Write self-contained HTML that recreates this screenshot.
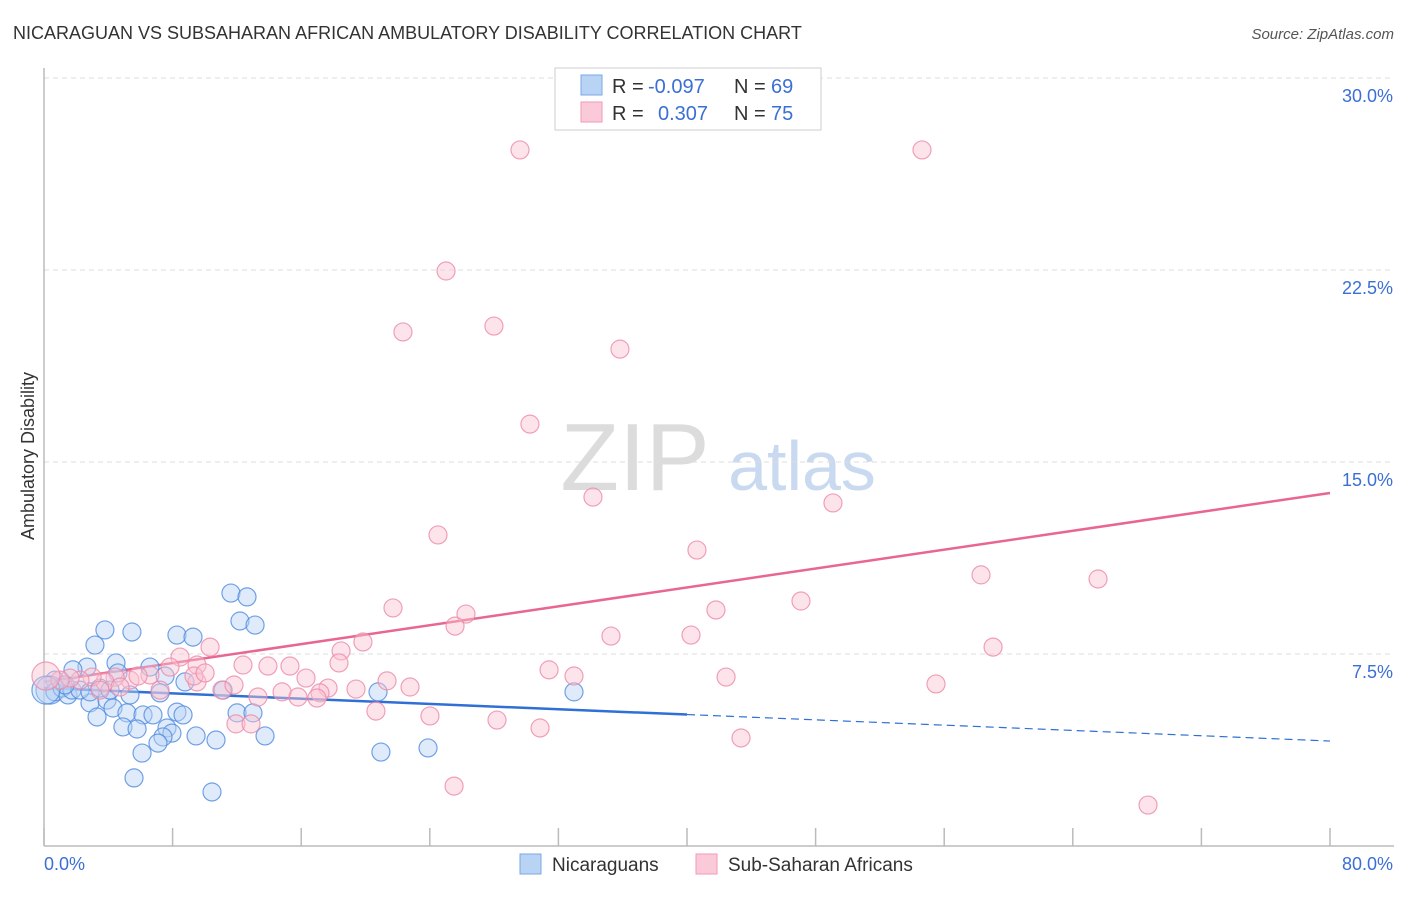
<!DOCTYPE html>
<html><head><meta charset="utf-8"><style>
body{margin:0;background:#fff;font-family:"Liberation Sans",sans-serif;}
svg text{font-family:"Liberation Sans",sans-serif;}
</style></head><body>
<svg id="chart" width="1406" height="892" xmlns="http://www.w3.org/2000/svg">
<text x="13" y="39" font-size="18" fill="#333">NICARAGUAN VS SUBSAHARAN AFRICAN AMBULATORY DISABILITY CORRELATION CHART</text>
<text x="1394" y="39" font-size="15" fill="#555" font-style="italic" text-anchor="end">Source: ZipAtlas.com</text>
<text transform="translate(34,456) rotate(-90)" font-size="18" fill="#333" text-anchor="middle">Ambulatory Disability</text>
<g>
<text x="635" y="490" font-size="96" font-family="Liberation Serif" fill="#dcdcdc" text-anchor="middle">ZIP</text>
<text x="802" y="490" font-size="70" fill="#c9d9ef" text-anchor="middle">atlas</text>
</g>
<g id="grid"></g><g id="axes"></g><g id="trends"></g><g id="pts"></g>
<g>
<rect x="555" y="68" width="266" height="62" fill="#fff" stroke="#ccc"/>
<rect x="581" y="75" width="21" height="20" fill="#b9d3f5" stroke="#7aa7e6"/>
<rect x="581" y="102" width="21" height="20" fill="#fbcad8" stroke="#f09ab4"/>
<text x="612" y="93" font-size="20" fill="#333">R =</text>
<text x="648" y="93" font-size="20" fill="#3b6fd4">-0.097</text>
<text x="734" y="93" font-size="20" fill="#333">N =</text>
<text x="771" y="93" font-size="20" fill="#3b6fd4">69</text>
<text x="612" y="120" font-size="20" fill="#333">R =</text>
<text x="658" y="120" font-size="20" fill="#3b6fd4">0.307</text>
<text x="734" y="120" font-size="20" fill="#333">N =</text>
<text x="771" y="120" font-size="20" fill="#3b6fd4">75</text>
</g>
<g>
<rect x="520" y="854" width="21" height="20" fill="#b9d3f5" stroke="#7aa7e6"/>
<text x="552" y="871" font-size="19" fill="#333">Nicaraguans</text>
<rect x="696" y="854" width="21" height="20" fill="#fbcad8" stroke="#f09ab4"/>
<text x="728" y="871" font-size="19" fill="#333">Sub-Saharan Africans</text>
</g>
</svg>
<script>
const yTicks=[7.5,15.0,22.5,30.0];
const yTickLabels=["7.5%","15.0%","22.5%","30.0%"];
const xTickValues=[0,8,16,24,32,40,48,56,64,72,80];
const xEndLabels=["0.0%","80.0%"];
const blueX=[11.63,12.63,12.19,13.13,3.79,5.47,3.17,8.27,9.27,4.48,2.67,6.59,7.53,8.77,11.14,1.80,4.60,0.68,5.35,7.22,2.86,3.92,4.29,5.16,3.30,6.16,6.78,8.27,8.65,12.01,13.00,4.91,5.79,7.65,7.96,7.40,7.09,9.46,10.70,13.75,6.10,5.60,10.45,0.37,0.68,1.12,1.49,1.74,2.24,2.86,3.48,1.31,4.11,20.78,32.97,20.96,23.89,0.12];
const blueY=[9.88,9.73,8.79,8.63,8.44,8.36,7.85,8.24,8.16,7.15,6.99,6.99,6.64,6.41,6.09,6.88,6.76,6.48,5.90,5.98,5.59,5.70,5.39,5.20,5.04,5.12,5.12,5.23,5.12,5.20,5.20,4.65,4.57,4.61,4.41,4.26,4.02,4.30,4.14,4.30,3.63,2.66,2.11,6.09,6.02,6.17,5.90,6.09,6.09,6.02,6.17,6.29,6.09,6.02,6.02,3.67,3.83,6.09];
const pinkX=[29.61,54.62,25.01,22.33,27.99,35.83,30.23,34.15,49.08,24.51,40.62,58.29,65.57,21.71,26.25,41.80,47.09,25.57,35.27,40.25,19.84,59.04,31.42,32.97,42.43,55.49,18.48,18.35,21.34,22.77,19.41,17.67,17.17,16.30,15.30,13.93,12.38,13.31,14.81,15.80,16.98,20.65,11.94,12.88,24.01,28.18,30.86,43.36,25.51,68.68,9.52,10.33,9.52,8.46,7.84,7.22,6.59,5.35,4.42,3.79,2.99,2.24,1.62,1.00,11.07,11.82,9.33,10.02,4.73,3.48,5.85,0.12];
const pinkY=[27.19,27.19,22.46,20.08,20.31,19.41,16.48,13.63,13.40,12.15,11.56,10.59,10.43,9.30,9.06,9.22,9.57,8.59,8.20,8.24,7.97,7.77,6.88,6.64,6.60,6.33,7.62,7.15,6.45,6.21,6.13,6.17,5.98,6.56,7.03,7.03,7.07,5.82,6.02,5.82,5.78,5.27,4.77,4.77,5.08,4.92,4.61,4.22,2.34,1.60,6.41,7.77,7.07,7.38,6.99,6.09,6.68,6.48,6.60,6.41,6.60,6.48,6.56,6.48,6.09,6.29,6.64,6.76,6.21,6.09,6.64,6.64];
const trendStart=[6.17,6.41];   // blue, pink at x=0
const trendEnd=[4.10,13.79];    // blue, pink at x=80
const NS="http://www.w3.org/2000/svg";
const X0=44,X1=1330,Y0=846,Y1=78;
const sx=v=>X0+(X1-X0)*v/80;
const sy=v=>Y0-(Y0-Y1)*v/30;
function mk(t,a,p){const e=document.createElementNS(NS,t);for(const k in a)e.setAttribute(k,a[k]);p.appendChild(e);return e;}
const grid=document.getElementById('grid'),axes=document.getElementById('axes'),trends=document.getElementById('trends'),pts=document.getElementById('pts');
yTicks.forEach((v,i)=>{
 const l=mk('line',{x1:X0,x2:1394,y1:sy(v),y2:sy(v),stroke:'#ddd','stroke-dasharray':'5,4'},grid);
 
 
 const t=mk('text',{x:1393,y:sy(v)+24,'font-size':18,fill:'#3b6fd4','text-anchor':'end'},grid);
 t.textContent=yTickLabels[i];
 
 
});
const ax=mk('line',{x1:X0,x2:X0,y1:68,y2:Y0,stroke:'#bbb','stroke-width':1.5},axes);


const bx=mk('line',{x1:X0,x2:1394,y1:Y0,y2:Y0,stroke:'#bbb','stroke-width':1.5},axes);


xTickValues.forEach(v=>{
 const t=mk('line',{x1:sx(v),x2:sx(v),y1:828,y2:Y0,stroke:'#bbb','stroke-width':1.5},axes);
 
 
});
const xl0=mk('text',{x:44,y:870,'font-size':18,fill:'#3b6fd4'},axes);xl0.textContent=xEndLabels[0];


const xl1=mk('text',{x:1393,y:870,'font-size':18,fill:'#3b6fd4','text-anchor':'end'},axes);xl1.textContent=xEndLabels[1];


function drawPts(xs,ys,fill,stroke,name){
 xs.forEach((x,i)=>{
  const r=(x<0.5)?14:9;
  const c=mk('circle',{cx:sx(x),cy:sy(ys[i]),r:r,fill:fill,'fill-opacity':0.45,stroke:stroke,'stroke-opacity':0.8,'stroke-width':1.2},pts);
  
  
 });
}
drawPts(blueX,blueY,'#b9d3f5','#4f8be0','nicaraguan-point');
drawPts(pinkX,pinkY,'#fbc3d3','#ec8aa8','subsaharan-point');
const mid=trendStart[0]+(trendEnd[0]-trendStart[0])*40/80;
const b1=mk('line',{x1:sx(0),y1:sy(trendStart[0]),x2:sx(40),y2:sy(mid),stroke:'#2f6fd6','stroke-width':2.5},trends);


const b2=mk('line',{x1:sx(40),y1:sy(mid),x2:sx(80),y2:sy(trendEnd[0]),stroke:'#2f6fd6','stroke-width':1.2,'stroke-dasharray':'8,5'},trends);


const p1=mk('line',{x1:sx(0),y1:sy(trendStart[1]),x2:sx(80),y2:sy(trendEnd[1]),stroke:'#e8668f','stroke-width':2.5},trends);


</script>
</body></html>
